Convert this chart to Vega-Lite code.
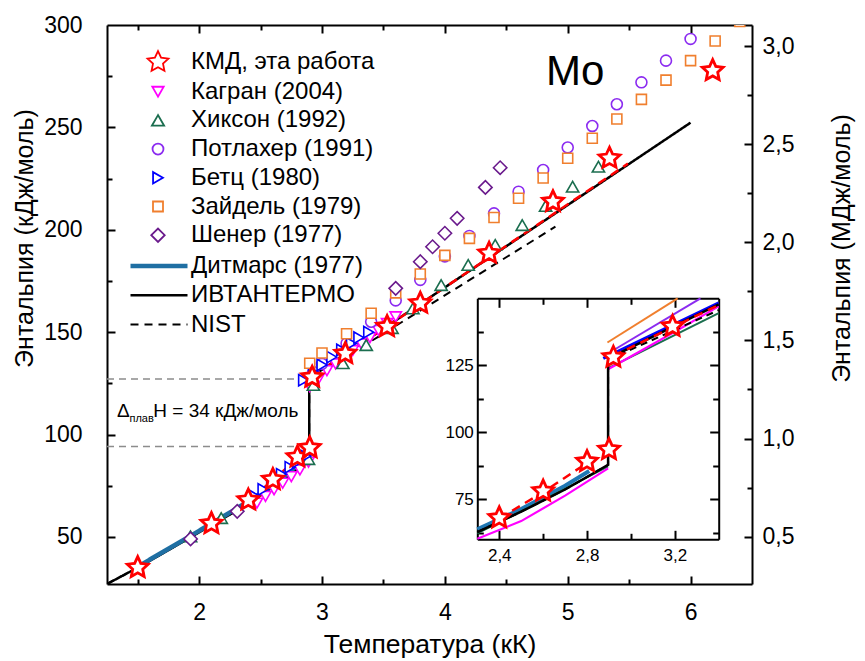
{
  "$schema": "https://vega.github.io/schema/vega-lite/v6.json",
  "width": 645,
  "height": 559,
  "autosize": {"type": "none"},
  "padding": {"left": 107, "top": 25, "right": 113, "bottom": 77},
  "background": "white",
  "config": {
    "view": {"stroke": "transparent", "fill": "white"},
    "font": "Liberation Sans",
    "axis": {
      "grid": false,
      "domainColor": "black",
      "domainWidth": 2,
      "tickColor": "black",
      "tickWidth": 2,
      "labelFont": "Liberation Sans",
      "labelColor": "black",
      "titleFont": "Liberation Sans",
      "titleFontWeight": "normal",
      "titleColor": "black",
      "zindex": 1
    },
    "legend": {
      "labelFont": "Liberation Sans",
      "labelColor": "black",
      "labelFontSize": 24,
      "labelLimit": 400
    }
  },
  "datasets": {
    "pts": [
      {"series": "Кагран (2004)", "T": 2.47, "H": 66.5},
      {"series": "Кагран (2004)", "T": 2.54, "H": 69.8},
      {"series": "Кагран (2004)", "T": 2.61, "H": 73.0},
      {"series": "Кагран (2004)", "T": 2.68, "H": 76.2},
      {"series": "Кагран (2004)", "T": 2.75, "H": 79.4},
      {"series": "Кагран (2004)", "T": 2.82, "H": 82.7},
      {"series": "Кагран (2004)", "T": 2.89, "H": 86.5},
      {"series": "Кагран (2004)", "T": 2.90, "H": 123.4},
      {"series": "Кагран (2004)", "T": 2.97, "H": 127.0},
      {"series": "Кагран (2004)", "T": 3.04, "H": 131.2},
      {"series": "Кагран (2004)", "T": 3.11, "H": 134.5},
      {"series": "Кагран (2004)", "T": 3.18, "H": 138.0},
      {"series": "Кагран (2004)", "T": 3.25, "H": 141.0},
      {"series": "Кагран (2004)", "T": 3.32, "H": 144.3},
      {"series": "Кагран (2004)", "T": 3.39, "H": 147.3},
      {"series": "Кагран (2004)", "T": 3.46, "H": 150.8},
      {"series": "Кагран (2004)", "T": 3.53, "H": 154.2},
      {"series": "Кагран (2004)", "T": 3.60, "H": 157.5},
      {"series": "Хиксон (1992)", "T": 1.93, "H": 50.3},
      {"series": "Хиксон (1992)", "T": 2.18, "H": 59.2},
      {"series": "Хиксон (1992)", "T": 2.89, "H": 88.0},
      {"series": "Хиксон (1992)", "T": 2.93, "H": 124.2},
      {"series": "Хиксон (1992)", "T": 3.17, "H": 134.8},
      {"series": "Хиксон (1992)", "T": 3.36, "H": 143.7},
      {"series": "Хиксон (1992)", "T": 3.57, "H": 152.0},
      {"series": "Хиксон (1992)", "T": 3.74, "H": 161.6},
      {"series": "Хиксон (1992)", "T": 3.97, "H": 173.0},
      {"series": "Хиксон (1992)", "T": 4.19, "H": 182.8},
      {"series": "Хиксон (1992)", "T": 4.41, "H": 192.6},
      {"series": "Хиксон (1992)", "T": 4.63, "H": 202.3},
      {"series": "Хиксон (1992)", "T": 4.82, "H": 211.6},
      {"series": "Хиксон (1992)", "T": 5.04, "H": 221.0},
      {"series": "Хиксон (1992)", "T": 5.25, "H": 230.8},
      {"series": "Потлахер (1991)", "T": 2.93, "H": 130.5},
      {"series": "Потлахер (1991)", "T": 3.0, "H": 134.5},
      {"series": "Потлахер (1991)", "T": 3.2, "H": 144.5},
      {"series": "Потлахер (1991)", "T": 3.4, "H": 155.1},
      {"series": "Потлахер (1991)", "T": 3.6, "H": 165.5},
      {"series": "Потлахер (1991)", "T": 3.8, "H": 175.5},
      {"series": "Потлахер (1991)", "T": 4.0, "H": 187.0},
      {"series": "Потлахер (1991)", "T": 4.2, "H": 197.0},
      {"series": "Потлахер (1991)", "T": 4.4, "H": 208.0},
      {"series": "Потлахер (1991)", "T": 4.6, "H": 218.6},
      {"series": "Потлахер (1991)", "T": 4.8, "H": 229.2},
      {"series": "Потлахер (1991)", "T": 5.0, "H": 240.2},
      {"series": "Потлахер (1991)", "T": 5.2, "H": 250.7},
      {"series": "Потлахер (1991)", "T": 5.4, "H": 261.3},
      {"series": "Потлахер (1991)", "T": 5.6, "H": 272.0},
      {"series": "Потлахер (1991)", "T": 5.8, "H": 282.6},
      {"series": "Потлахер (1991)", "T": 6.0, "H": 293.2},
      {"series": "Бетц (1980)", "T": 2.45, "H": 70.0},
      {"series": "Бетц (1980)", "T": 2.52, "H": 73.2},
      {"series": "Бетц (1980)", "T": 2.59, "H": 76.4},
      {"series": "Бетц (1980)", "T": 2.67, "H": 80.6},
      {"series": "Бетц (1980)", "T": 2.74, "H": 84.0},
      {"series": "Бетц (1980)", "T": 2.80, "H": 86.6},
      {"series": "Бетц (1980)", "T": 2.87, "H": 89.5},
      {"series": "Бетц (1980)", "T": 2.85, "H": 126.5},
      {"series": "Бетц (1980)", "T": 2.93, "H": 130.5},
      {"series": "Бетц (1980)", "T": 3.0, "H": 134.0},
      {"series": "Бетц (1980)", "T": 3.08, "H": 137.8},
      {"series": "Бетц (1980)", "T": 3.16, "H": 141.3},
      {"series": "Бетц (1980)", "T": 3.24, "H": 144.5},
      {"series": "Бетц (1980)", "T": 3.30, "H": 147.3},
      {"series": "Бетц (1980)", "T": 3.38, "H": 150.0},
      {"series": "Зайдель (1979)", "T": 2.9, "H": 134.8},
      {"series": "Зайдель (1979)", "T": 3.0, "H": 139.8},
      {"series": "Зайдель (1979)", "T": 3.2, "H": 149.2},
      {"series": "Зайдель (1979)", "T": 3.4, "H": 159.2},
      {"series": "Зайдель (1979)", "T": 3.6, "H": 169.2},
      {"series": "Зайдель (1979)", "T": 3.8, "H": 178.4},
      {"series": "Зайдель (1979)", "T": 4.0, "H": 187.5},
      {"series": "Зайдель (1979)", "T": 4.2, "H": 195.8},
      {"series": "Зайдель (1979)", "T": 4.4, "H": 206.0},
      {"series": "Зайдель (1979)", "T": 4.6, "H": 215.4},
      {"series": "Зайдель (1979)", "T": 4.8, "H": 225.3},
      {"series": "Зайдель (1979)", "T": 5.0, "H": 234.9},
      {"series": "Зайдель (1979)", "T": 5.2, "H": 244.7},
      {"series": "Зайдель (1979)", "T": 5.4, "H": 254.1},
      {"series": "Зайдель (1979)", "T": 5.6, "H": 263.7},
      {"series": "Зайдель (1979)", "T": 5.8, "H": 273.1},
      {"series": "Зайдель (1979)", "T": 6.0, "H": 282.6},
      {"series": "Зайдель (1979)", "T": 6.2, "H": 292.2},
      {"series": "Зайдель (1979)", "T": 6.4, "H": 301.7},
      {"series": "Шенер (1977)", "T": 1.93, "H": 49.0},
      {"series": "Шенер (1977)", "T": 2.31, "H": 62.5},
      {"series": "Шенер (1977)", "T": 3.6, "H": 171.4},
      {"series": "Шенер (1977)", "T": 3.8, "H": 184.4},
      {"series": "Шенер (1977)", "T": 3.9, "H": 191.7},
      {"series": "Шенер (1977)", "T": 4.0, "H": 198.3},
      {"series": "Шенер (1977)", "T": 4.1, "H": 205.6},
      {"series": "Шенер (1977)", "T": 4.33, "H": 220.7},
      {"series": "Шенер (1977)", "T": 4.45, "H": 230.3},
      {"series": "КМД, эта работа", "T": 1.5, "H": 35.0},
      {"series": "КМД, эта работа", "T": 2.1, "H": 56.5},
      {"series": "КМД, эта работа", "T": 2.4, "H": 68.0},
      {"series": "КМД, эта работа", "T": 2.6, "H": 78.0},
      {"series": "КМД, эта работа", "T": 2.8, "H": 89.0},
      {"series": "КМД, эта работа", "T": 2.9, "H": 93.5},
      {"series": "КМД, эта работа", "T": 2.92, "H": 128.0},
      {"series": "КМД, эта работа", "T": 3.19, "H": 139.5},
      {"series": "КМД, эта работа", "T": 3.53, "H": 152.7},
      {"series": "КМД, эта работа", "T": 3.8, "H": 164.1},
      {"series": "КМД, эта работа", "T": 4.36, "H": 188.5},
      {"series": "КМД, эта работа", "T": 4.88, "H": 213.7},
      {"series": "КМД, эта работа", "T": 5.34, "H": 234.9},
      {"series": "КМД, эта работа", "T": 6.18, "H": 277.7}
    ],
    "lines": [
      {"src": "NIST", "T": 1.25, "H": 27.0},
      {"src": "NIST", "T": 1.5, "H": 35.0},
      {"src": "NIST", "T": 1.75, "H": 43.5},
      {"src": "NIST", "T": 2.0, "H": 52.3},
      {"src": "NIST", "T": 2.3, "H": 62.7},
      {"src": "NIST", "T": 2.5, "H": 70.3},
      {"src": "NIST", "T": 2.7, "H": 78.6},
      {"src": "NIST", "T": 2.896, "H": 87.8},
      {"src": "NIST", "T": 2.896, "H": 127.0},
      {"src": "NIST", "T": 3.4, "H": 145.6},
      {"src": "NIST", "T": 4.9, "H": 201.5},
      {"src": "ИВТАНТЕРМО", "T": 1.25, "H": 27.0},
      {"src": "ИВТАНТЕРМО", "T": 1.5, "H": 35.0},
      {"src": "ИВТАНТЕРМО", "T": 1.75, "H": 43.5},
      {"src": "ИВТАНТЕРМО", "T": 2.0, "H": 52.3},
      {"src": "ИВТАНТЕРМО", "T": 2.3, "H": 62.7},
      {"src": "ИВТАНТЕРМО", "T": 2.5, "H": 70.3},
      {"src": "ИВТАНТЕРМО", "T": 2.7, "H": 78.6},
      {"src": "ИВТАНТЕРМО", "T": 2.896, "H": 87.8},
      {"src": "ИВТАНТЕРМО", "T": 2.896, "H": 127.5},
      {"src": "ИВТАНТЕРМО", "T": 3.4, "H": 147.7},
      {"src": "ИВТАНТЕРМО", "T": 6.0, "H": 252.3},
      {"src": "Дитмарс (1977)", "T": 1.5, "H": 35.5},
      {"src": "Дитмарс (1977)", "T": 1.75, "H": 44.2},
      {"src": "Дитмарс (1977)", "T": 2.0, "H": 53.0},
      {"src": "Дитмарс (1977)", "T": 2.3, "H": 63.7},
      {"src": "Дитмарс (1977)", "T": 2.5, "H": 71.3},
      {"src": "Дитмарс (1977)", "T": 2.7, "H": 80.0},
      {"src": "Дитмарс (1977)", "T": 2.81, "H": 85.5}
    ],
    "fit": [
      {"phase": "solid", "T": 2.4, "H": 67.8},
      {"phase": "solid", "T": 2.6, "H": 77.6},
      {"phase": "solid", "T": 2.8, "H": 88.5},
      {"phase": "liquid", "T": 2.92, "H": 128.5},
      {"phase": "liquid", "T": 3.4, "H": 147.5},
      {"phase": "liquid", "T": 5.49, "H": 232.3}
    ],
    "melt": [
      {"T0": 1.25, "T1": 2.8, "H": 127.1},
      {"T0": 1.25, "T1": 2.8, "H": 94.1}
    ],
    "ins": [
      {"src": "Кагран", "seg": 1, "T": 2.3, "H": 60.2},
      {"src": "Кагран", "seg": 1, "T": 2.5, "H": 66.8},
      {"src": "Кагран", "seg": 1, "T": 2.7, "H": 76.3},
      {"src": "Кагран", "seg": 1, "T": 2.896, "H": 86.5},
      {"src": "Кагран", "seg": 2, "T": 2.896, "H": 123.5},
      {"src": "Кагран", "seg": 2, "T": 3.2, "H": 137.5},
      {"src": "Кагран", "seg": 2, "T": 3.4, "H": 147.0},
      {"src": "Хиксон", "seg": 1, "T": 2.3, "H": 62.2},
      {"src": "Хиксон", "seg": 1, "T": 2.6, "H": 74.6},
      {"src": "Хиксон", "seg": 1, "T": 2.896, "H": 87.2},
      {"src": "Хиксон", "seg": 2, "T": 2.9, "H": 124.0},
      {"src": "Хиксон", "seg": 2, "T": 3.4, "H": 144.5},
      {"src": "Потлахер", "seg": 2, "T": 2.92, "H": 130.6},
      {"src": "Потлахер", "seg": 2, "T": 3.317, "H": 150.0},
      {"src": "Бетц", "seg": 2, "T": 2.874, "H": 127.6},
      {"src": "Бетц", "seg": 2, "T": 3.4, "H": 148.3},
      {"src": "Зайдель", "seg": 2, "T": 2.893, "H": 133.5},
      {"src": "Зайдель", "seg": 2, "T": 3.213, "H": 150.0}
    ]
  },
  "layer": [
    {
      "layer": [
        {
          "data": {"name": "melt"},
          "mark": {"type": "rule", "color": "#8c8c8c", "strokeWidth": 1.5, "strokeDash": [7, 5]},
          "encoding": {
            "x": {"field": "T0", "type": "quantitative", "scale": {"domain": [1.25, 6.5], "nice": false, "zero": false},
              "axis": {"orient": "top", "offset": -559, "values": [1.5, 2, 2.5, 3, 3.5, 4, 4.5, 5, 5.5, 6], "labels": false, "domain": false, "title": null,
                "tickSize": {"condition": {"test": "datum.value % 1 === 0", "value": 8}, "value": 5}}},
            "x2": {"field": "T1"},
            "y": {"field": "H", "type": "quantitative", "scale": {"domain": [27, 300], "nice": false, "zero": false},
              "axis": {"orient": "right", "offset": -645, "values": [50, 75, 100, 125, 150, 175, 200, 225, 250, 275], "labels": false, "domain": false, "title": null,
                "tickSize": {"condition": {"test": "datum.value % 50 === 0", "value": 8}, "value": 5}}}
          }
        },
        {
          "data": {"name": "lines"},
          "mark": {"type": "line", "clip": true},
          "encoding": {
            "x": {"field": "T", "type": "quantitative", "scale": {"domain": [1.25, 6.5], "nice": false, "zero": false},
              "axis": {"orient": "bottom", "values": [2, 3, 4, 5, 6], "ticks": false, "domain": true, "labelFontSize": 23, "labelPadding": 17,
                "title": "Температура (кК)", "titleFontSize": 26.5, "titleY": 68, "titleBaseline": "alphabetic"}},
            "y": {"field": "H", "type": "quantitative", "scale": {"domain": [27, 300], "nice": false, "zero": false},
              "axis": {"orient": "left", "values": [50, 100, 150, 200, 250, 300], "ticks": false, "domain": true, "labelFontSize": 23, "labelPadding": 25,
                "title": "Энтальпия (кДж/моль)", "titleFontSize": 25, "titleAngle": -90, "titleX": -75, "titleY": 213, "titleAlign": "center", "titleBaseline": "alphabetic"}},
            "color": {"field": "src", "type": "nominal",
              "scale": {"domain": ["Дитмарс (1977)", "ИВТАНТЕРМО", "NIST"], "range": ["#1f6fa3", "black", "black"]},
              "legend": {"orient": "none", "legendX": 40, "legendY": 229, "title": null, "labelFontSize": 24, "rowPadding": 5.3, "padding": 0, "labelOffset": 20, "symbolType": "M-5.7,0H5.7", "symbolSize": 100}},
            "strokeDash": {"field": "src", "type": "nominal",
              "scale": {"domain": ["Дитмарс (1977)", "ИВТАНТЕРМО", "NIST"], "range": [[1, 0], [1, 0], [8, 6]]},
              "legend": {"orient": "none", "legendX": 40, "legendY": 229, "title": null, "labelFontSize": 24, "rowPadding": 5.3, "padding": 0, "labelOffset": 20, "symbolType": "M-5.7,0H5.7", "symbolSize": 100}},
            "strokeWidth": {"field": "src", "type": "nominal",
              "scale": {"type": "ordinal", "domain": ["Дитмарс (1977)", "ИВТАНТЕРМО", "NIST"], "range": [4.5, 2.5, 2]},
              "legend": {"orient": "none", "legendX": 40, "legendY": 229, "title": null, "labelFontSize": 24, "rowPadding": 5.3, "padding": 0, "labelOffset": 20, "symbolType": "M-5.7,0H5.7", "symbolSize": 100}},
            "order": {"field": "H", "type": "quantitative"}
          }
        },
        {
          "data": {"name": "fit"},
          "mark": {"type": "line", "color": "#ff0000", "strokeWidth": 2.5, "strokeDash": [9, 6]},
          "encoding": {
            "x": {"field": "T", "type": "quantitative", "scale": {"domain": [1.25, 6.5], "nice": false, "zero": false},
              "axis": {"orient": "bottom", "offset": -559, "values": [1.5, 2, 2.5, 3, 3.5, 4, 4.5, 5, 5.5, 6], "labels": false, "domain": true, "title": null,
                "tickSize": {"condition": {"test": "datum.value % 1 === 0", "value": 8}, "value": 5}}},
            "y": {"field": "H", "type": "quantitative", "scale": {"domain": [27, 300], "nice": false, "zero": false}, "axis": null},
            "detail": {"field": "phase"},
            "order": {"field": "H", "type": "quantitative"}
          }
        },
        {
          "data": {"name": "pts"},
          "mark": {"type": "point", "filled": true, "fill": "white", "fillOpacity": 1, "opacity": 1, "strokeWidth": 1.6, "clip": true},
          "encoding": {
            "x": {"field": "T", "type": "quantitative", "scale": {"domain": [1.25, 6.5], "nice": false, "zero": false}, "axis": null},
            "y": {"field": "H", "type": "quantitative", "scale": {"domain": [27, 300], "nice": false, "zero": false}, "axis": null},
            "stroke": {"field": "series", "type": "nominal",
              "scale": {"domain": ["КМД, эта работа", "Кагран (2004)", "Хиксон (1992)", "Потлахер (1991)", "Бетц (1980)", "Зайдель (1979)", "Шенер (1977)"],
                "range": ["#ff0000", "#ff00ff", "#1b6e4f", "#8b2bf0", "#0000ff", "#f07f2e", "#6a1a8c"]},
              "legend": {"orient": "none", "legendX": 39, "legendY": 25, "title": null, "labelFontSize": 24, "rowPadding": 4.7, "padding": 0, "labelOffset": 21, "symbolStrokeWidth": 1.8}},
            "shape": {"field": "series", "type": "nominal",
              "scale": {"domain": ["КМД, эта работа", "Кагран (2004)", "Хиксон (1992)", "Потлахер (1991)", "Бетц (1980)", "Зайдель (1979)", "Шенер (1977)"],
                "range": ["M0,-1L0.282,-0.388L0.951,-0.309L0.457,0.148L0.588,0.809L0,0.48L-0.588,0.809L-0.457,0.148L-0.951,-0.309L-0.282,-0.388Z", "triangle-down", "triangle-up", "circle", "triangle-right", "square", "diamond"]},
              "legend": {"orient": "none", "legendX": 39, "legendY": 25, "title": null, "labelFontSize": 24, "rowPadding": 4.7, "padding": 0, "labelOffset": 21, "symbolStrokeWidth": 1.8}},
            "size": {"field": "series", "type": "nominal",
              "scale": {"type": "ordinal", "domain": ["КМД, эта работа", "Кагран (2004)", "Хиксон (1992)", "Потлахер (1991)", "Бетц (1980)", "Зайдель (1979)", "Шенер (1977)"],
                "range": [480, 130, 150, 120, 130, 100, 180]},
              "legend": {"orient": "none", "legendX": 39, "legendY": 25, "title": null, "labelFontSize": 24, "rowPadding": 4.7, "padding": 0, "labelOffset": 21, "symbolStrokeWidth": 1.8}}
          }
        },
        {
          "data": {"name": "pts"},
          "transform": [{"filter": "datum.series === 'КМД, эта работа'"}],
          "mark": {"type": "point", "shape": "M0,-1L0.282,-0.388L0.951,-0.309L0.457,0.148L0.588,0.809L0,0.48L-0.588,0.809L-0.457,0.148L-0.951,-0.309L-0.282,-0.388Z",
            "size": 480, "filled": true, "fill": "white", "stroke": "#ff0000", "strokeWidth": 2.8, "opacity": 1, "clip": true},
          "encoding": {
            "x": {"field": "T", "type": "quantitative", "scale": {"domain": [1.25, 6.5], "nice": false, "zero": false}, "axis": null},
            "y": {"field": "H", "type": "quantitative", "scale": {"domain": [27, 300], "nice": false, "zero": false}, "axis": null}
          }
        },
        {
          "data": {"values": [{}]},
          "mark": {"type": "text", "text": "Mo", "fontSize": 42, "align": "left", "baseline": "alphabetic", "color": "black", "font": "Liberation Sans"},
          "encoding": {
            "x": {"datum": 4.823, "type": "quantitative", "scale": {"domain": [1.25, 6.5], "nice": false, "zero": false}, "axis": null},
            "y": {"datum": 270.7, "type": "quantitative", "scale": {"domain": [27, 300], "nice": false, "zero": false}, "axis": null}
          }
        },
        {
          "data": {"values": [{}]},
          "mark": {"type": "text", "text": "Δ", "fontSize": 19, "align": "left", "baseline": "alphabetic", "color": "black", "font": "Liberation Sans"},
          "encoding": {
            "x": {"datum": 1.331, "type": "quantitative", "scale": {"domain": [1.25, 6.5], "nice": false, "zero": false}, "axis": null},
            "y": {"datum": 108.7, "type": "quantitative", "scale": {"domain": [27, 300], "nice": false, "zero": false}, "axis": null}
          }
        },
        {
          "data": {"values": [{}]},
          "mark": {"type": "text", "text": "плав", "fontSize": 11, "align": "left", "baseline": "alphabetic", "color": "black", "font": "Liberation Sans"},
          "encoding": {
            "x": {"datum": 1.433, "type": "quantitative", "scale": {"domain": [1.25, 6.5], "nice": false, "zero": false}, "axis": null},
            "y": {"datum": 106.1, "type": "quantitative", "scale": {"domain": [27, 300], "nice": false, "zero": false}, "axis": null}
          }
        },
        {
          "data": {"values": [{}]},
          "mark": {"type": "text", "text": "H = 34 кДж/моль", "fontSize": 19, "align": "left", "baseline": "alphabetic", "color": "black", "font": "Liberation Sans"},
          "encoding": {
            "x": {"datum": 1.627, "type": "quantitative", "scale": {"domain": [1.25, 6.5], "nice": false, "zero": false}, "axis": null},
            "y": {"datum": 108.7, "type": "quantitative", "scale": {"domain": [27, 300], "nice": false, "zero": false}, "axis": null}
          }
        }
      ],
      "resolve": {
        "axis": {"x": "independent", "y": "independent"}
      }
    },
    {
      "data": {"values": [{"MJ": 0.5}, {"MJ": 3.0}]},
      "layer": [
        {
          "mark": {"type": "point", "opacity": 0},
          "encoding": {
            "y": {"field": "MJ", "type": "quantitative", "scale": {"domain": [0.259, 3.107], "nice": false, "zero": false},
              "axis": {"orient": "right", "values": [0.5, 1, 1.5, 2, 2.5, 3], "ticks": false, "domain": true, "labelFontSize": 23, "labelPadding": 10,
                "labelExpr": "replace(format(datum.value, '.1f'), '.', ',')",
                "title": "Энтальпия (МДж/моль)", "titleFontSize": 25, "titleAngle": -90, "titleX": 97, "titleY": 223, "titleAlign": "center", "titleBaseline": "alphabetic"}}
          }
        },
        {
          "mark": {"type": "point", "opacity": 0},
          "encoding": {
            "y": {"field": "MJ", "type": "quantitative", "scale": {"domain": [0.259, 3.107], "nice": false, "zero": false},
              "axis": {"orient": "left", "offset": -645, "values": [0.5, 0.75, 1, 1.25, 1.5, 1.75, 2, 2.25, 2.5, 2.75, 3], "labels": false, "domain": false, "title": null,
                "tickSize": {"condition": {"test": "(datum.value * 2) % 1 === 0", "value": 8}, "value": 5}}}
          }
        }
      ],
      "resolve": {"axis": {"y": "independent"}}
    },
    {
      "layer": [
        {
          "data": {"name": "lines"},
          "transform": [{"filter": "datum.src === 'Дитмарс (1977)' && datum.T >= 2.3"}],
          "mark": {"type": "line", "color": "#1f77b4", "strokeWidth": 4},
          "encoding": {
            "x": {"field": "T", "type": "quantitative", "scale": {"domain": [2.3, 3.4], "range": [370.3, 611.7], "nice": false, "zero": false},
              "axis": {"orient": "bottom", "offset": -44.7, "values": [2.4, 2.8, 3.2], "ticks": false, "domain": true, "labelFontSize": 17, "labelPadding": 8,
                "labelExpr": "replace(format(datum.value, '.1f'), '.', ',')", "title": null}},
            "y": {"field": "H", "type": "quantitative", "scale": {"domain": [60, 150], "range": [514.3, 273.3], "nice": false, "zero": false},
              "axis": {"orient": "left", "offset": -370.3, "values": [75, 100, 125], "ticks": false, "domain": true, "labelFontSize": 17, "labelPadding": 4, "title": null}},
            "order": {"field": "H", "type": "quantitative"}
          }
        },
        {
          "data": {"name": "ins"},
          "transform": [{"filter": "datum.src === 'Хиксон'"}],
          "mark": {"type": "line", "color": "#1b6e4f", "strokeWidth": 2},
          "encoding": {
            "x": {"field": "T", "type": "quantitative", "scale": {"domain": [2.3, 3.4], "range": [370.3, 611.7], "nice": false, "zero": false},
              "axis": {"orient": "top", "offset": -514.3, "values": [2.4, 2.6, 2.8, 3.0, 3.2], "labels": false, "domain": false, "title": null,
                "tickSize": {"condition": {"test": "round(datum.value * 10) % 4 === 0", "value": 9}, "value": 6}}},
            "y": {"field": "H", "type": "quantitative", "scale": {"domain": [60, 150], "range": [514.3, 273.3], "nice": false, "zero": false},
              "axis": {"orient": "right", "offset": -274.7, "values": [62.5, 75, 87.5, 100, 112.5, 125, 137.5], "labels": false, "domain": false, "title": null,
                "tickSize": {"condition": {"test": "datum.value % 25 === 0", "value": 9}, "value": 6}}},
            "detail": {"field": "seg"},
            "order": {"field": "H", "type": "quantitative"}
          }
        },
        {
          "data": {"name": "ins"},
          "transform": [{"filter": "datum.src === 'Кагран'"}],
          "mark": {"type": "line", "color": "#ff00ff", "strokeWidth": 2.2},
          "encoding": {
            "x": {"field": "T", "type": "quantitative", "scale": {"domain": [2.3, 3.4], "range": [370.3, 611.7], "nice": false, "zero": false},
              "axis": {"orient": "bottom", "offset": -285.7, "values": [2.4, 2.6, 2.8, 3.0, 3.2], "labels": false, "domain": true, "title": null,
                "tickSize": {"condition": {"test": "round(datum.value * 10) % 4 === 0", "value": 9}, "value": 6}}},
            "y": {"field": "H", "type": "quantitative", "scale": {"domain": [60, 150], "range": [514.3, 273.3], "nice": false, "zero": false},
              "axis": {"orient": "left", "offset": -611.7, "values": [62.5, 75, 87.5, 100, 112.5, 125, 137.5], "labels": false, "domain": true, "title": null,
                "tickSize": {"condition": {"test": "datum.value % 25 === 0", "value": 9}, "value": 6}}},
            "detail": {"field": "seg"},
            "order": {"field": "H", "type": "quantitative"}
          }
        },
        {
          "data": {"name": "ins"},
          "transform": [{"filter": "datum.src === 'Бетц'"}],
          "mark": {"type": "line", "color": "#0000ff", "strokeWidth": 3},
          "encoding": {
            "x": {"field": "T", "type": "quantitative", "scale": {"domain": [2.3, 3.4], "range": [370.3, 611.7], "nice": false, "zero": false}, "axis": null},
            "y": {"field": "H", "type": "quantitative", "scale": {"domain": [60, 150], "range": [514.3, 273.3], "nice": false, "zero": false}, "axis": null},
            "order": {"field": "H", "type": "quantitative"}
          }
        },
        {
          "data": {"name": "ins"},
          "transform": [{"filter": "datum.src === 'Потлахер'"}],
          "mark": {"type": "line", "color": "#8b2bf0", "strokeWidth": 2},
          "encoding": {
            "x": {"field": "T", "type": "quantitative", "scale": {"domain": [2.3, 3.4], "range": [370.3, 611.7], "nice": false, "zero": false}, "axis": null},
            "y": {"field": "H", "type": "quantitative", "scale": {"domain": [60, 150], "range": [514.3, 273.3], "nice": false, "zero": false}, "axis": null},
            "order": {"field": "H", "type": "quantitative"}
          }
        },
        {
          "data": {"name": "ins"},
          "transform": [{"filter": "datum.src === 'Зайдель'"}],
          "mark": {"type": "line", "color": "#f07f2e", "strokeWidth": 2},
          "encoding": {
            "x": {"field": "T", "type": "quantitative", "scale": {"domain": [2.3, 3.4], "range": [370.3, 611.7], "nice": false, "zero": false}, "axis": null},
            "y": {"field": "H", "type": "quantitative", "scale": {"domain": [60, 150], "range": [514.3, 273.3], "nice": false, "zero": false}, "axis": null},
            "order": {"field": "H", "type": "quantitative"}
          }
        },
        {
          "data": {"name": "lines"},
          "transform": [{"filter": "datum.src === 'NIST' && datum.T >= 2.3 && datum.T <= 3.4"}],
          "mark": {"type": "line", "color": "black", "strokeWidth": 2, "strokeDash": [7, 5]},
          "encoding": {
            "x": {"field": "T", "type": "quantitative", "scale": {"domain": [2.3, 3.4], "range": [370.3, 611.7], "nice": false, "zero": false}, "axis": null},
            "y": {"field": "H", "type": "quantitative", "scale": {"domain": [60, 150], "range": [514.3, 273.3], "nice": false, "zero": false}, "axis": null},
            "order": {"field": "H", "type": "quantitative"}
          }
        },
        {
          "data": {"name": "lines"},
          "transform": [{"filter": "datum.src === 'ИВТАНТЕРМО' && datum.T >= 2.3 && datum.T <= 3.4"}],
          "mark": {"type": "line", "color": "black", "strokeWidth": 2.5},
          "encoding": {
            "x": {"field": "T", "type": "quantitative", "scale": {"domain": [2.3, 3.4], "range": [370.3, 611.7], "nice": false, "zero": false}, "axis": null},
            "y": {"field": "H", "type": "quantitative", "scale": {"domain": [60, 150], "range": [514.3, 273.3], "nice": false, "zero": false}, "axis": null},
            "order": {"field": "H", "type": "quantitative"}
          }
        },
        {
          "data": {"name": "fit"},
          "transform": [{"filter": "datum.T <= 3.4"}],
          "mark": {"type": "line", "color": "#ff0000", "strokeWidth": 2.5, "strokeDash": [9, 6]},
          "encoding": {
            "x": {"field": "T", "type": "quantitative", "scale": {"domain": [2.3, 3.4], "range": [370.3, 611.7], "nice": false, "zero": false}, "axis": null},
            "y": {"field": "H", "type": "quantitative", "scale": {"domain": [60, 150], "range": [514.3, 273.3], "nice": false, "zero": false}, "axis": null},
            "detail": {"field": "phase"},
            "order": {"field": "H", "type": "quantitative"}
          }
        },
        {
          "data": {"name": "pts"},
          "transform": [{"filter": "datum.series === 'КМД, эта работа' && datum.T >= 2.3 && datum.T <= 3.4"}],
          "mark": {"type": "point", "shape": "M0,-1L0.282,-0.388L0.951,-0.309L0.457,0.148L0.588,0.809L0,0.48L-0.588,0.809L-0.457,0.148L-0.951,-0.309L-0.282,-0.388Z",
            "size": 480, "filled": true, "fill": "white", "stroke": "#ff0000", "strokeWidth": 2.8, "opacity": 1},
          "encoding": {
            "x": {"field": "T", "type": "quantitative", "scale": {"domain": [2.3, 3.4], "range": [370.3, 611.7], "nice": false, "zero": false}, "axis": null},
            "y": {"field": "H", "type": "quantitative", "scale": {"domain": [60, 150], "range": [514.3, 273.3], "nice": false, "zero": false}, "axis": null}
          }
        }
      ],
      "resolve": {"axis": {"x": "independent", "y": "independent"}}
    }
  ],
  "resolve": {
    "scale": {"x": "independent", "y": "independent"},
    "axis": {"x": "independent", "y": "independent"}
  }
}
